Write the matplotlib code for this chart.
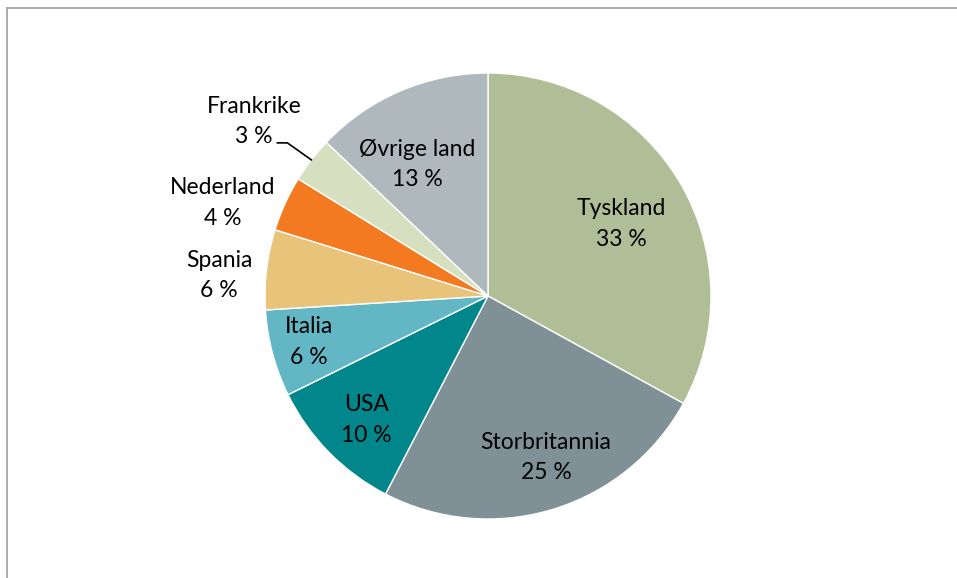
import numpy as np
import matplotlib
matplotlib.use("Agg")
import matplotlib.pyplot as plt
from matplotlib.lines import Line2D

plt.rcParams['font.family'] = ['Lato', 'DejaVu Sans']

land = ['Tyskland', 'Storbritannia', 'USA', 'Italia', 'Spania',
        'Nederland', 'Frankrike', 'Øvrige land']
andel = [33.0, 24.6, 10.1, 6.3, 5.8, 4.0, 3.3, 12.9]
etikett = ['33 %', '25 %', '10 %', '6 %', '6 %', '4 %', '3 %', '13 %']
farger = ['#afbe97', '#7f9096', '#00868b', '#63b7c4', '#e8c47b',
          '#f47a21', '#d6dfc0', '#afb8bd']
# label placement: angle (deg clockwise from top) and distance (fraction of radius)
vinkel = [61.6, 160.3, 224.5, 255.6, 274.3, 289.3, 306.7, 331.7]
avstand = [0.68, 0.77, 0.78, 0.83, 1.21, 1.26, 1.31, 0.67]

W, H = 957, 578
R = 223.0
cx, cy = 488, 296

fig = plt.figure(figsize=(W / 100, H / 100), dpi=100)
ax = fig.add_axes([0, 0, 1, 1])
ax.pie(andel, colors=farger, startangle=90, counterclock=False,
       radius=1.0, wedgeprops=dict(edgecolor='white', linewidth=1.0))
ax.set_xlim(-cx / R, (W - cx) / R)
ax.set_ylim(-(H - cy) / R, cy / R)
ax.set_aspect('auto')
ax.axis('off')

cum = np.cumsum([0] + andel[:-1])
for i, navn in enumerate(land):
    a = np.radians(vinkel[i])
    x = avstand[i] * np.sin(a)
    y = avstand[i] * np.cos(a)
    ax.text(x, y, navn + '\n' + etikett[i], ha='center', va='center',
            fontsize=16.5, color='#000000', linespacing=1.55)
    if navn == 'Frankrike':
        mid = (cum[i] + andel[i] / 2) / 100 * 2 * np.pi
        ex, ey = np.sin(mid), np.cos(mid)
        bx, by = ex - 24 / R, ey + 17 / R
        ax.plot([ex, bx, bx - 10 / R], [ey, by, by], color='black', lw=1.2)

# chart frame (top and left edges visible)
fig.add_artist(Line2D([7.5 / W, 1], [1 - 7.5 / H, 1 - 7.5 / H],
                      transform=fig.transFigure, color='#a6a6a6', lw=1.3))
fig.add_artist(Line2D([7.5 / W, 7.5 / W], [0, 1 - 7.5 / H],
                      transform=fig.transFigure, color='#a6a6a6', lw=1.3))

fig.savefig('out.png', dpi=100, facecolor='white')
